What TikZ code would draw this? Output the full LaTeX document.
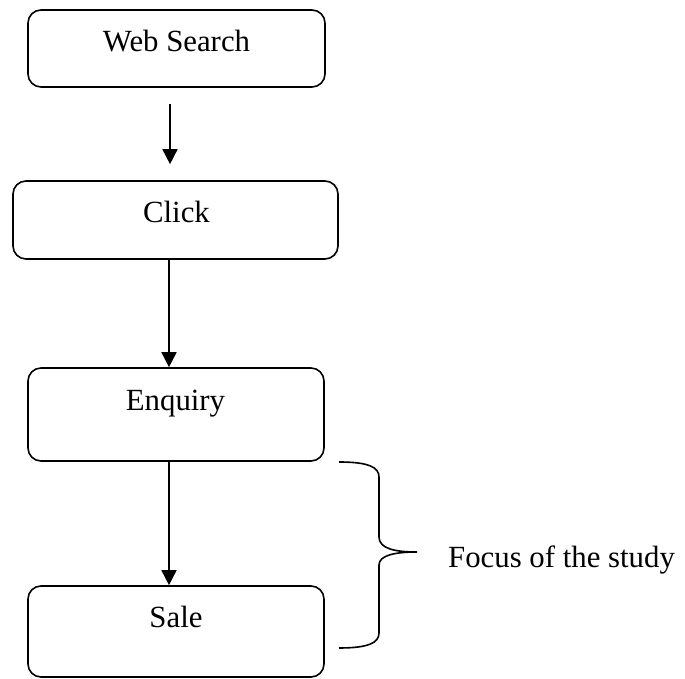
\documentclass[tikz,border=0pt]{standalone}
\usepackage{fontspec}
\setmainfont{Liberation Serif}
\usetikzlibrary{arrows.meta}
\tikzset{
  stage/.style={draw=black, line width=1.6pt, rounded corners=13pt, inner sep=0pt, minimum width=#1},
  lbl/.style={inner sep=0pt, font=\fontsize{30.8}{36}\selectfont},
  arr/.style={line width=1.6pt, -{Triangle[length=15pt,width=15pt]}},
  brace/.style={line width=1.6pt}
}
\begin{document}
\begin{tikzpicture}[x=1pt,y=1pt]
\useasboundingbox (0,0) rectangle (685,679);
% boxes
\node[stage=297pt, minimum height=77pt] (web)   at (176.5,630.5) {};
\node[stage=325pt, minimum height=78pt] (click) at (175.5,459) {};
\node[stage=296pt, minimum height=93pt] (enq)   at (176,264.5) {};
\node[stage=296pt, minimum height=91pt] (sale)  at (176,47.5) {};
% labels
\node[lbl, anchor=base] (tweb)   at (176.5,627) {Web Search};
\node[lbl, anchor=base] (tclick) at (176.5,456) {Click};
\node[lbl, anchor=base] (tenq)   at (175.5,268) {Enquiry};
\node[lbl, anchor=base] (tsale)  at (176,51) {Sale};
\node[lbl, anchor=base west] (focus) at (448,111) {Focus of the study};
% arrows
\draw[arr] ([xshift=-6.5pt,yshift=-16pt]web.south) -- ([xshift=-5.5pt,yshift=16pt]click.north);
\draw[arr] ([xshift=-6.5pt]click.south) -- ([xshift=-7pt]enq.north);
\draw[arr] ([xshift=-7pt]enq.south) -- ([xshift=-7pt]sale.north);
% brace
\coordinate (btop) at (339,217);
\coordinate (btip) at (417,127);
\coordinate (bbot) at (339,31);
\draw[brace] (btop) .. controls (368,217) and (379,212) .. (379,202)
  -- (379,142) .. controls (379,130) and (396,127) .. (btip)
  .. controls (396,127) and (379,124) .. (379,114)
  -- (379,46) .. controls (379,36) and (368,31) .. (bbot);
\end{tikzpicture}
\end{document}
